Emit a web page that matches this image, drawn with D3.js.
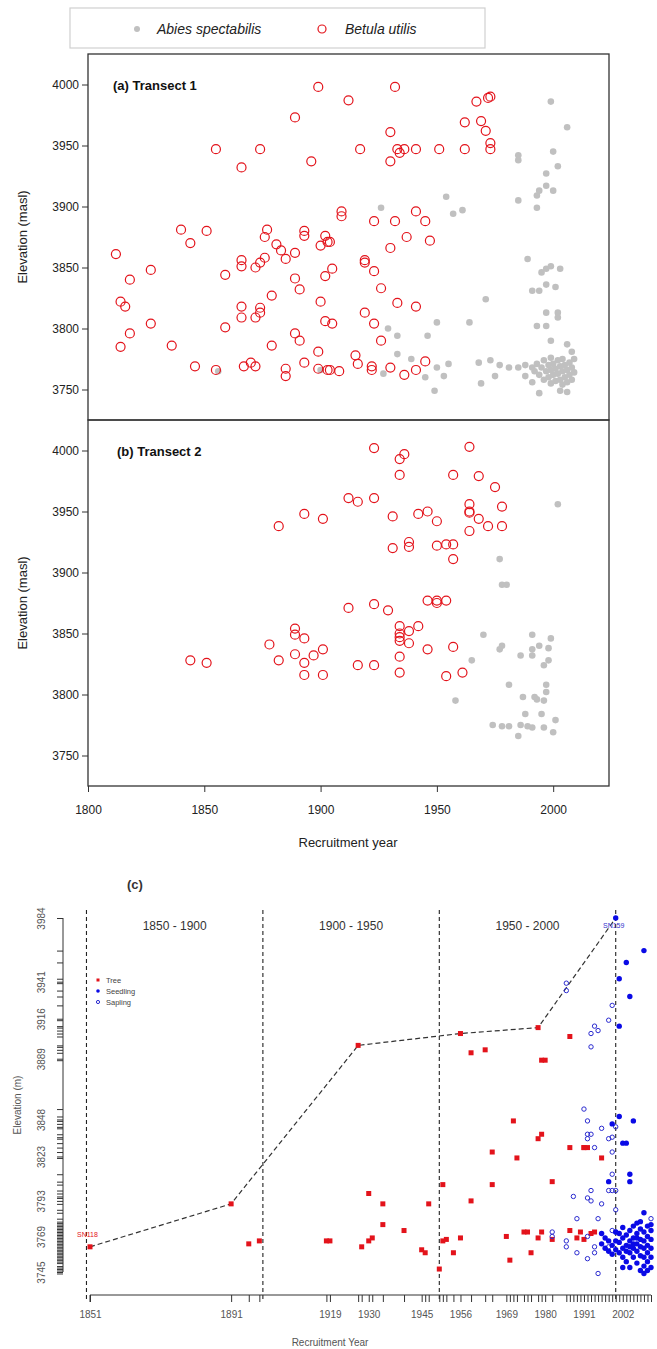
<!DOCTYPE html>
<html>
<head>
<meta charset="utf-8">
<script src="https://cdn.jsdelivr.net/npm/d3@7"></script>
<style>
  body { margin: 0; background: #fff; }
  svg { font-family: "Liberation Sans", Arial, sans-serif; }
  .axis path, .axis line { stroke: #333; }
</style>
</head>
<body>
<svg id="vis" width="657" height="1349"></svg>
<script>
// ---- data: [year, elevation] ----
const abiesT1 = [
  [1926,3899],[1954,3908],[1957,3894],[1961,3897],[1929,3800],[1933,3794],[1933,3779],[1939,3775],
  [1950,3805],[1946,3794],[1964,3805],[1971,3824],[1927,3763],[1945,3760],[1949,3749],[1950,3768],
  [1953,3761],[1955,3771],[1968,3772],[1969,3755],[1973,3774],[1975,3761],[1977,3770],[1981,3768],
  [1985,3768],[1988,3770],[1988,3761],[1991,3756],[1994,3747],[2003,3749],[2006,3748],[1999,3986],
  [2006,3965],[1985,3942],[1985,3938],[2000,3945],[2002,3933],[1997,3927],[1997,3917],[1994,3913],
  [1993,3909],[2000,3913],[1985,3905],[1993,3899],[1989,3857],[1995,3846],[1997,3849],[1999,3851],
  [2003,3849],[1991,3831],[1994,3831],[1997,3836],[2001,3834],[1997,3813],[2002,3813],[2002,3809],
  [1993,3802],[1997,3802],[1999,3790],[2006,3787],[2008,3781],
  [1991,3768],[1992,3765],[1993,3771],[1994,3762],[1995,3768],[1996,3774],[1996,3758],[1997,3765],
  [1998,3770],[1998,3760],[1999,3776],[1999,3766],[1999,3755],[2000,3771],[2000,3762],[2001,3767],
  [2001,3757],[2002,3774],[2002,3763],[2003,3769],[2003,3758],[2004,3765],[2004,3775],[2004,3754],
  [2005,3770],[2005,3760],[2006,3766],[2006,3756],[2007,3772],[2007,3762],[2008,3768],[2008,3758],
  [2009,3764],[2009,3775],[1856,3765],[1900,3766]
];
const betulaT1 = [
  [1812,3861],[1814,3822],[1816,3818],[1818,3840],[1818,3796],[1814,3785],[1827,3848],[1827,3804],
  [1836,3786],[1840,3881],[1844,3870],[1846,3769],[1851,3880],[1855,3766],[1855,3947],[1859,3844],
  [1859,3801],[1866,3932],[1866,3856],[1866,3851],[1866,3818],[1866,3809],[1867,3769],[1870,3772],
  [1872,3769],[1872,3850],[1872,3809],[1874,3947],[1874,3854],[1874,3817],[1874,3813],[1876,3875],
  [1876,3858],[1877,3881],[1879,3827],[1879,3786],[1881,3869],[1883,3864],[1885,3857],[1885,3767],
  [1885,3761],[1889,3973],[1889,3862],[1889,3841],[1889,3796],[1891,3832],[1891,3790],[1893,3880],
  [1893,3876],[1893,3772],[1896,3937],[1899,3781],[1899,3767],[1899,3998],[1900,3868],[1900,3822],
  [1902,3843],[1902,3806],[1902,3876],[1903,3766],[1903,3871],
  [1912,3987],[1932,3998],[1967,3986],[1972,3989],[1973,3990],[1962,3969],[1969,3970],[1971,3962],
  [1973,3952],[1973,3947],[1917,3947],[1930,3961],[1933,3947],[1936,3947],[1934,3944],[1941,3947],
  [1951,3947],[1962,3947],[1930,3937],[1909,3896],[1909,3892],[1923,3888],[1932,3888],[1941,3896],
  [1945,3888],[1937,3875],[1947,3872],[1930,3866],[1904,3871],[1919,3856],[1919,3854],[1923,3847],
  [1905,3849],[1926,3833],[1933,3821],[1941,3818],[1919,3813],[1923,3804],[1905,3804],[1926,3790],
  [1915,3778],[1916,3771],[1922,3769],[1922,3766],[1930,3768],[1936,3762],[1941,3766],[1945,3773],
  [1904,3766],[1908,3765]
];
const abiesT2 = [
  [2002,3956],[1977,3911],[1978,3890],[1980,3890],[1970,3849],[1991,3849],[1999,3846],[1994,3840],
  [1991,3837],[1978,3840],[1977,3837],[1998,3838],[1986,3832],[1991,3832],[1998,3828],[1996,3824],
  [1965,3828],[1981,3808],[1997,3808],[1997,3802],[1987,3798],[1992,3798],[1993,3796],[1996,3795],
  [1958,3795],[1988,3784],[1995,3784],[1974,3775],[1978,3774],[1981,3774],[1986,3775],[1989,3774],
  [1991,3773],[1996,3773],[2001,3779],[1985,3766],[2000,3769]
];
const betulaT2 = [
  [1844,3828],[1851,3826],[1878,3841],[1882,3938],[1882,3828],[1889,3854],[1889,3849],[1889,3833],
  [1893,3948],[1893,3846],[1893,3826],[1893,3816],[1897,3832],[1901,3944],[1901,3837],[1901,3816],
  [1923,4002],[1964,4003],[1936,3997],[1934,3993],[1934,3980],[1957,3980],[1968,3979],[1975,3970],
  [1912,3961],[1916,3958],[1923,3961],[1964,3956],[1964,3950],[1964,3949],[1978,3954],[1931,3946],
  [1942,3948],[1946,3950],[1950,3942],[1968,3944],[1972,3938],[1978,3938],[1964,3934],[1938,3925],
  [1938,3921],[1931,3920],[1950,3922],[1954,3923],[1957,3923],[1957,3911],[1912,3871],[1923,3874],
  [1929,3869],[1946,3877],[1950,3877],[1950,3875],[1954,3877],[1934,3856],[1934,3850],[1934,3847],
  [1934,3844],[1938,3852],[1942,3856],[1938,3842],[1946,3837],[1957,3839],[1934,3831],[1916,3824],
  [1923,3824],[1934,3818],[1954,3815],[1961,3818]
];

// panel (c)
const trees = [
  [1851,3762],[1891,3791],[1896,3764],[1899,3766],[1918,3766],[1919,3766],[1927,3898],[1928,3762],
  [1930,3798],[1930,3766],[1931,3768],[1934,3791],[1934,3777],[1940,3773],[1945,3760],[1946,3758],
  [1947,3791],[1950,3747],[1951,3804],[1951,3766],[1952,3767],[1954,3758],[1956,3906],[1956,3768],
  [1959,3893],[1959,3793],[1963,3895],[1965,3804],[1965,3826],[1969,3769],[1970,3753],[1971,3847],
  [1972,3822],[1974,3772],[1975,3772],[1976,3758],[1978,3768],[1978,3910],[1978,3835],[1979,3838],
  [1979,3888],[1980,3888],[1979,3772],[1982,3806],[1982,3767],[1987,3904],[1987,3829],[1987,3773],
  [1989,3768],[1990,3772],[1991,3829],[1991,3829],[1992,3829],[1991,3767],[1993,3771],[1994,3772],
  [1996,3822]
];
const seedlings = [
  [2000,3984],[2001,3943],[2003,3954],[2004,3931],[2008,3962],[2001,3911],[2001,3850],[1999,3845],
  [2005,3847],[2002,3832],[2003,3832],[2004,3811],[2004,3806],[1998,3806],[2002,3775],[2008,3785],
  [2010,3777],[1996,3771],
  [1996,3764],[1997,3761],[1997,3768],[1998,3759],[1999,3763],[1999,3757],[2000,3766],[2000,3760],
  [2001,3758],[2001,3765],[2002,3761],[2002,3768],[2002,3755],[2003,3763],[2003,3770],[2003,3752],
  [2004,3758],[2004,3766],[2004,3773],[2004,3748],[2005,3761],[2005,3755],[2005,3768],[2005,3776],
  [2006,3751],[2006,3759],[2006,3764],[2006,3771],[2007,3746],[2007,3756],[2007,3762],[2007,3767],
  [2007,3774],[2008,3749],[2008,3755],[2008,3761],[2008,3766],[2008,3772],[2009,3746],[2009,3752],
  [2009,3758],[2009,3763],[2009,3769],[2010,3755],[2010,3761],[2010,3767],[2010,3773],[2010,3748],
  [1998,3766],[2001,3771],[2003,3759],[2006,3778],[2005,3764],[2007,3779],[2009,3776],[2000,3772],
  [2002,3748],[2004,3762],[2006,3768],[2008,3744]
];
const saplings = [
  [1986,3940],[1986,3935],[1999,3925],[1998,3915],[1994,3911],[1995,3908],[1993,3906],[1993,3897],
  [1991,3855],[1992,3847],[1996,3842],[1998,3835],[1999,3836],[2000,3843],[1992,3835],[1992,3838],
  [1993,3838],[1994,3829],[1999,3826],[1999,3811],[1998,3800],[1999,3800],[2000,3800],[1993,3800],
  [1992,3795],[1993,3793],[1988,3796],[1996,3791],[2000,3787],[1989,3781],[1995,3781],[1982,3772],
  [1982,3769],[1986,3766],[1986,3762],[1989,3758],[1992,3769],[1992,3754],[1994,3762],[1994,3758],
  [1999,3773],[2000,3772],[1995,3744],[1998,3762],[2010,3781]
];
const frontier = [[1851,3762],[1891,3791],[1927,3898],[1956,3906],[1978,3910],[2000,3984]];
const periods = [[1850,1900,"1850 - 1900"],[1900,1950,"1900 - 1950"],[1950,2000,"1950 - 2000"]];
const periodBreaks = [1850, 1900, 1950, 2000];
const yLabelsC = [3745, 3769, 3793, 3823, 3848, 3889, 3916, 3941, 3984];
const xLabelsC = [1851, 1891, 1919, 1930, 1945, 1956, 1969, 1980, 1991, 2002];

const svg = d3.select("svg#vis");
const grey = "#c0c0c0", red = "#e3131b", blue = "#0a0ae6";

// ---------- legend (top) ----------
const leg = svg.append("g");
leg.append("rect").attr("x", 70).attr("y", 8).attr("width", 415).attr("height", 40)
  .attr("fill", "none").attr("stroke", "#d0d0d0").attr("stroke-width", 1.2);
leg.append("circle").attr("cx", 137).attr("cy", 29).attr("r", 3).attr("fill", grey);
leg.append("text").attr("x", 157).attr("y", 34).text("Abies spectabilis")
  .style("font-style", "italic").style("font-size", "14px").attr("fill", "#222");
leg.append("circle").attr("cx", 322).attr("cy", 29).attr("r", 4).attr("fill", "none")
  .attr("stroke", red).attr("stroke-width", 1.2);
leg.append("text").attr("x", 345).attr("y", 34).text("Betula utilis")
  .style("font-style", "italic").style("font-size", "14px").attr("fill", "#222");

// ---------- panels (a) and (b) ----------
const x = d3.scaleLinear().domain([1800, 2024]).range([88, 609]);

function drawTransect(top, bottom, label, abies, betula, showX) {
  const y = d3.scaleLinear().domain([3725, 4025]).range([bottom, top]);
  const g = svg.append("g");

  g.append("g").attr("class", "axis").attr("transform", "translate(88,0)")
    .call(d3.axisLeft(y).tickValues(d3.range(3750, 4001, 50)).tickFormat(d3.format("d"))
      .tickSize(6).tickSizeOuter(0))
    .call(a => a.select(".domain").remove())
    .call(a => a.selectAll("text").style("font-size", "12px").attr("fill", "#222"));

  if (showX) {
    g.append("g").attr("class", "axis").attr("transform", "translate(0," + bottom + ")")
      .call(d3.axisBottom(x).tickValues([1800, 1850, 1900, 1950, 2000]).tickFormat(d3.format("d"))
        .tickSize(6).tickSizeOuter(0))
      .call(a => a.select(".domain").remove())
      .call(a => a.selectAll("text").style("font-size", "12px").attr("fill", "#222").attr("dy", "1.6em"));
  }

  g.append("g").selectAll("circle").data(abies).enter().append("circle")
    .attr("cx", d => x(d[0])).attr("cy", d => y(d[1])).attr("r", 3.3).attr("fill", grey);

  g.append("g").selectAll("circle").data(betula).enter().append("circle")
    .attr("cx", d => x(d[0])).attr("cy", d => y(d[1])).attr("r", 4.5)
    .attr("fill", "none").attr("stroke", red).attr("stroke-width", 1.2);

  g.append("rect").attr("x", 88).attr("y", top).attr("width", 521).attr("height", bottom - top)
    .attr("fill", "none").attr("stroke", "#333").attr("stroke-width", 1.3);

  g.append("text").attr("x", label[1]).attr("y", y(4000) + 5).text(label[0])
    .style("font-weight", "bold").style("font-size", "13px").attr("fill", "#111");

  g.append("text").attr("transform", "translate(27," + ((top + bottom) / 2) + ") rotate(-90)")
    .attr("text-anchor", "middle").style("font-size", "13px").attr("fill", "#222")
    .text("Elevation (masl)");
}

drawTransect(54, 420, ["(a) Transect 1", 113], abiesT1, betulaT1, false);
drawTransect(420, 786, ["(b) Transect 2", 117], abiesT2, betulaT2, true);

svg.append("text").attr("x", 348).attr("y", 847).attr("text-anchor", "middle")
  .style("font-size", "13px").attr("fill", "#222").text("Recruitment year");

// ---------- panel (c) ----------
const xc = d3.scaleLinear().domain([1851, 2010]).range([90, 651]);
const yc = d3.scaleLinear().domain([3745, 3984]).range([1272, 918]);
const gc = svg.append("g");
const allC = trees.concat(seedlings, saplings);

svg.append("text").attr("x", 127).attr("y", 889).text("(c)")
  .style("font-weight", "bold").style("font-size", "13px").attr("fill", "#333");

// period dividers
gc.append("g").selectAll("line").data(periodBreaks).enter().append("line")
  .attr("x1", d => xc(d)).attr("x2", d => xc(d)).attr("y1", 910).attr("y2", 1299)
  .attr("stroke", "#222").attr("stroke-width", 1.1).attr("stroke-dasharray", "4,3");

gc.append("g").selectAll("text").data(periods).enter().append("text")
  .attr("x", d => (xc(d[0]) + xc(d[1])) / 2).attr("y", 930).attr("text-anchor", "middle")
  .style("font-size", "12px").attr("fill", "#333").text(d => d[2]);

// y axis: a tick at every recorded elevation
const yTicks = Array.from(new Set(allC.map(d => d[1]).concat(yLabelsC))).sort((a, b) => a - b);
gc.append("g").attr("class", "axis").attr("transform", "translate(63,0)")
  .call(d3.axisLeft(yc).tickValues(yTicks).tickSize(6).tickSizeOuter(0)
    .tickFormat(d => yLabelsC.includes(d) ? d : ""))
  .call(a => a.select(".domain").attr("d", "M0," + yc(3984) + "V" + yc(3745)))
  .call(a => a.selectAll("text").attr("transform", "rotate(-90)").attr("text-anchor", "middle")
    .attr("x", 0).attr("y", -18).attr("dy", 0)
    .style("font-size", "10px").attr("fill", "#555"));

// x axis: a tick at every recruitment year
const xTicks = Array.from(new Set(allC.map(d => d[0]).concat(xLabelsC))).sort((a, b) => a - b);
gc.append("g").attr("class", "axis").attr("transform", "translate(0,1295)")
  .call(d3.axisBottom(xc).tickValues(xTicks).tickSize(7).tickSizeOuter(0)
    .tickFormat(d => xLabelsC.includes(d) ? d : ""))
  .call(a => a.select(".domain").attr("d", "M" + xc(1851) + ",7V0H" + xc(2010)))
  .call(a => a.selectAll("text").style("font-size", "10px").attr("fill", "#555").attr("dy", "1.3em"));

// frontier line
gc.append("path").datum(frontier)
  .attr("d", d3.line().x(d => xc(d[0])).y(d => yc(d[1])))
  .attr("fill", "none").attr("stroke", "#333").attr("stroke-width", 1.2).attr("stroke-dasharray", "5,3");

gc.append("g").selectAll("rect").data(trees).enter().append("rect")
  .attr("x", d => xc(d[0]) - 2.5).attr("y", d => yc(d[1]) - 2.5).attr("width", 5).attr("height", 5)
  .attr("fill", red);
gc.append("g").selectAll("circle").data(saplings).enter().append("circle")
  .attr("cx", d => xc(d[0])).attr("cy", d => yc(d[1])).attr("r", 2.2)
  .attr("fill", "none").attr("stroke", "#2b2bd0").attr("stroke-width", 1);
gc.append("g").selectAll("circle").data(seedlings).enter().append("circle")
  .attr("cx", d => xc(d[0])).attr("cy", d => yc(d[1])).attr("r", 2.7).attr("fill", blue);

gc.append("text").attr("x", 77).attr("y", 1237).text("SN118").style("font-size", "7px").attr("fill", red);
gc.append("text").attr("x", 603).attr("y", 928).text("SN159").style("font-size", "7px").attr("fill", "#3333cc");

// legend (c)
const lc = gc.append("g").attr("transform", "translate(98,980)");
lc.append("rect").attr("x", -1.5).attr("y", -1.5).attr("width", 3).attr("height", 3).attr("fill", red);
lc.append("circle").attr("cx", 0).attr("cy", 11).attr("r", 1.8).attr("fill", blue);
lc.append("circle").attr("cx", 0).attr("cy", 22).attr("r", 1.6).attr("fill", "none").attr("stroke", "#2b2bd0");
lc.selectAll("text").data(["Tree", "Seedling", "Sapling"]).enter().append("text")
  .attr("x", 8).attr("y", (d, i) => i * 11 + 2.5).text(d => d)
  .style("font-size", "7.5px").attr("fill", "#444");

gc.append("text").attr("transform", "translate(21,1105) rotate(-90)").attr("text-anchor", "middle")
  .style("font-size", "10px").attr("fill", "#555").text("Elevation (m)");
gc.append("text").attr("x", 330).attr("y", 1346).attr("text-anchor", "middle")
  .style("font-size", "10px").attr("fill", "#555").text("Recruitment Year");
</script>
</body>
</html>
